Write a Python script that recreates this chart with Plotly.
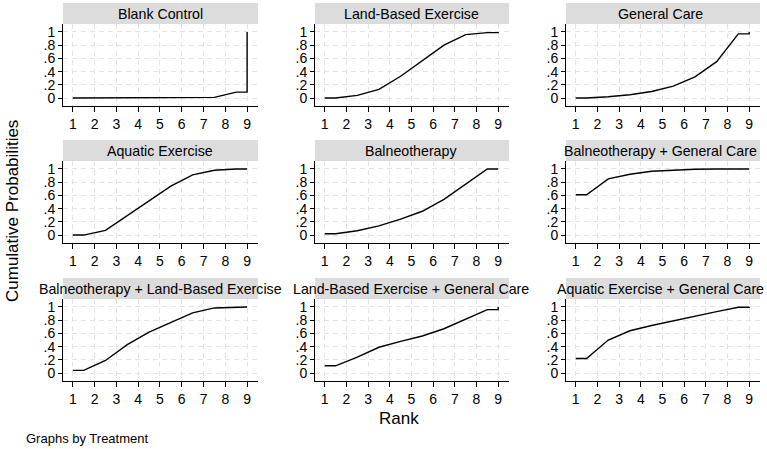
import plotly.graph_objects as go

W, H = 767, 449

ranks = [1, 2, 3, 4, 5, 6, 7, 8, 9]

treatments = [
    "Blank Control", "Land-Based Exercise", "General Care",
    "Aquatic Exercise", "Balneotherapy", "Balneotherapy + General Care",
    "Balneotherapy + Land-Based Exercise", "Land-Based Exercise + General Care",
    "Aquatic Exercise + General Care",
]

blank_control = [0, 0, 0, 0, 0, 0, 0.01, 0.09, 1]
land_based = [0, 0.04, 0.13, 0.33, 0.57, 0.80, 0.96, 0.99, 1]
general_care = [0, 0.02, 0.05, 0.10, 0.18, 0.32, 0.55, 0.97, 1]
aquatic = [0, 0.07, 0.29, 0.51, 0.74, 0.91, 0.98, 1.0, 1]
balneo = [0.02, 0.065, 0.14, 0.24, 0.36, 0.54, 0.77, 1.0, 1]
balneo_general = [0.61, 0.85, 0.92, 0.965, 0.985, 0.995, 1, 1, 1]
balneo_land = [0.04, 0.19, 0.43, 0.62, 0.76, 0.91, 0.985, 1.0, 1]
land_general = [0.11, 0.24, 0.39, 0.48, 0.56, 0.67, 0.82, 0.96, 1]
aquatic_general = [0.22, 0.50, 0.64, 0.72, 0.79, 0.87, 0.93, 0.995, 1]

series = [blank_control, land_based, general_care, aquatic, balneo,
          balneo_general, balneo_land, land_general, aquatic_general]

ytick_vals = [0, 0.2, 0.4, 0.6, 0.8, 1]
ytick_text = ["0", ".2", ".4", ".6", ".8", "1"]

FONT = "Liberation Sans, Arial, sans-serif"

col_px = [(63, 258), (315, 509), (566, 760)]
title_cx = [160, 411, 660]
row_px = [(24, 106), (161, 243), (299, 381)]
header_h = 21

fig = go.Figure()
shapes = []
annotations = []

for i, (name, c) in enumerate(zip(treatments, series)):
    r, k = divmod(i, 3)
    x0, x1 = col_px[k]
    y0, y1 = row_px[r]
    n = i + 1
    xa = "xaxis" if n == 1 else f"xaxis{n}"
    ya = "yaxis" if n == 1 else f"yaxis{n}"
    xref = "x" if n == 1 else f"x{n}"
    yref = "y" if n == 1 else f"y{n}"

    xs = [ranks[0]] + [rr + 0.5 for rr in ranks[:-1]] + [ranks[-1], ranks[-1]]
    ys = [c[0]] + list(c[:-1]) + [c[-2], c[-1]]
    fig.add_trace(go.Scatter(x=xs, y=ys, mode="lines",
                             line=dict(color="black", width=1.4),
                             xaxis=xref, yaxis=yref, showlegend=False,
                             hoverinfo="skip"))

    fig.update_layout({
        xa: dict(domain=[x0 / W, x1 / W], range=[0.55, 9.5],
                 tickvals=ranks, ticks="outside", ticklen=5, tickwidth=1,
                 tickcolor="black", showline=True, linecolor="black", linewidth=1,
                 showgrid=True, gridcolor="#e3e3e3", griddash="5px,4px", gridwidth=1,
                 zeroline=False, tickfont=dict(family=FONT, size=14, color="black"),
                 anchor=yref, fixedrange=True),
        ya: dict(domain=[1 - y1 / H, 1 - y0 / H], range=[-0.12, 1.12],
                 tickvals=ytick_vals, ticktext=ytick_text, ticks="outside",
                 ticklen=4, tickwidth=1, tickcolor="black", showline=True,
                 linecolor="black", linewidth=1, showgrid=True,
                 gridcolor="#e3e3e3", griddash="5px,4px", gridwidth=1,
                 zeroline=False, tickfont=dict(family=FONT, size=14, color="black"),
                 anchor=xref, fixedrange=True),
    })

    shapes.append(dict(type="rect", xref="paper", yref="paper",
                       x0=x0 / W, x1=x1 / W, y0=1 - y0 / H, y1=1 - (y0 - header_h) / H,
                       fillcolor="#dcdcdc", line=dict(width=0), layer="below"))
    annotations.append(dict(text=name, xref="paper", yref="paper",
                            x=title_cx[k] / W, y=1 - (y0 - header_h / 2) / H,
                            xanchor="center", yanchor="middle", showarrow=False,
                            font=dict(family=FONT, size=14.2, color="black")))

annotations.append(dict(text="Rank", xref="paper", yref="paper", x=399 / W, y=1 - 418 / H,
                        xanchor="center", yanchor="middle", showarrow=False,
                        font=dict(family=FONT, size=17, color="black")))
annotations.append(dict(text="Cumulative Probabilities", xref="paper", yref="paper",
                        x=12 / W, y=1 - 211 / H, textangle=-90,
                        xanchor="center", yanchor="middle", showarrow=False,
                        font=dict(family=FONT, size=17, color="black")))
annotations.append(dict(text="Graphs by Treatment", xref="paper", yref="paper",
                        x=24 / W, y=1 - 438 / H, xanchor="left", yanchor="middle",
                        showarrow=False, font=dict(family=FONT, size=13, color="black")))

fig.update_layout(width=W, height=H, margin=dict(l=0, r=0, t=0, b=0),
                  paper_bgcolor="white", plot_bgcolor="white",
                  shapes=shapes, annotations=annotations, showlegend=False)

fig.write_html("out.html", config={"displayModeBar": False})
